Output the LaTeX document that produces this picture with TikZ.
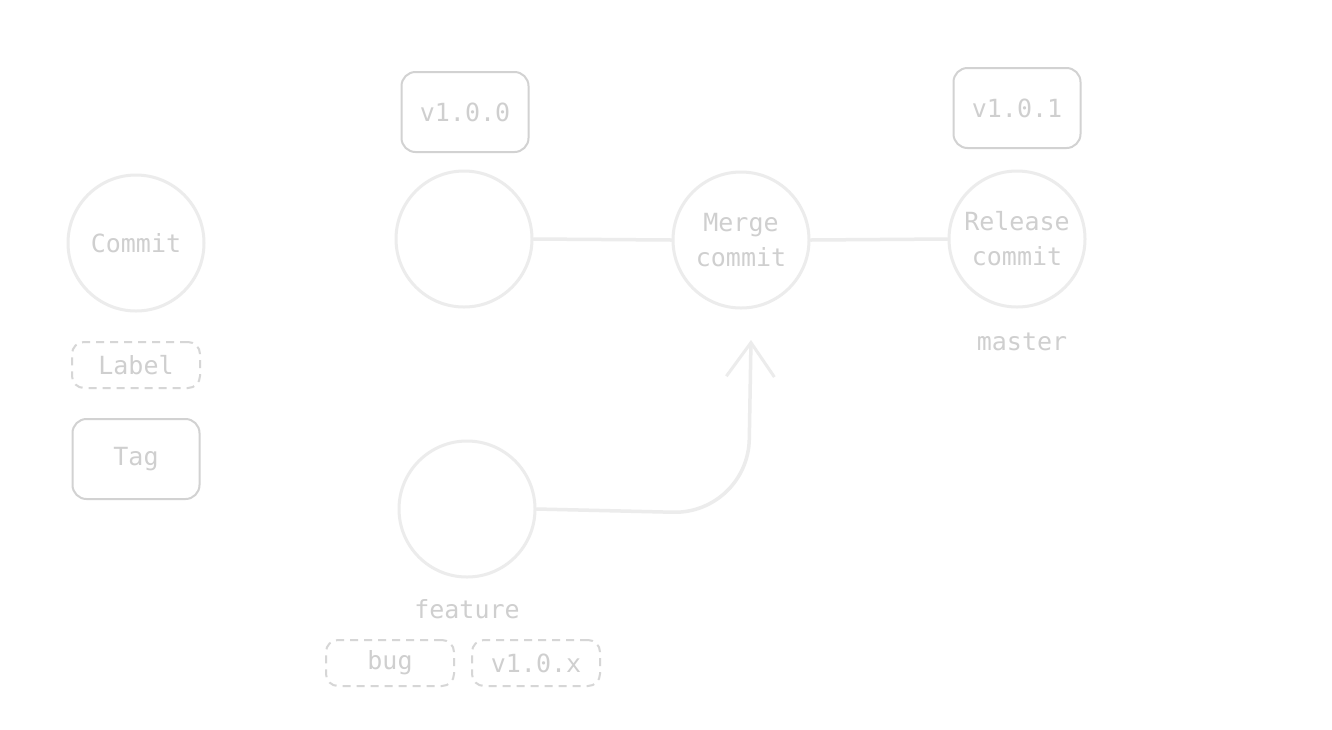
\documentclass[tikz,border=0pt]{standalone}
\usepackage{fontspec}
\setmonofont{DejaVu Sans Mono}
\usetikzlibrary{arrows.meta}
\definecolor{ringgray}{HTML}{ECECEC}
\definecolor{textgray}{HTML}{CFCFCF}
\definecolor{boxgray}{HTML}{D2D2D2}
\definecolor{dashgray}{HTML}{D6D6D6}
\begin{document}
\begin{tikzpicture}[x=1pt,y=-1pt,
  txt/.style={text=textgray,font=\ttfamily\fontsize{25}{35}\selectfont,align=center},
  commitnode/.style={txt,circle,draw=ringgray,line width=3pt,minimum size=136pt,inner sep=0pt},
  tagbox/.style={txt,draw=boxgray,line width=2pt,rounded corners=14pt,minimum width=127pt,minimum height=80pt,inner sep=0pt},
  labelbox/.style={txt,draw=dashgray,line width=2pt,dash pattern=on 8pt off 6pt,rounded corners=12pt,minimum width=128pt,minimum height=46pt,inner sep=0pt},
  branch/.style={draw=ringgray,line width=3.5pt,line cap=round},
  plain/.style={txt}]
\useasboundingbox[fill=white] (0,0) rectangle (1332,729);

% legend
\node[commitnode] (legcommit) at (136,243) {Commit};
\node[labelbox] (leglabel) at (136,365) {Label};
\node[tagbox] (legtag) at (136,459) {Tag};

% main line
\node[commitnode] (c1) at (464,239) {};
\node[tagbox] (t100) at (465,112) {v1.0.0};
\node[commitnode] (merge) at (741,240) {Merge\\commit};
\node[commitnode] (release) at (1017,239) {Release\\commit};
\node[tagbox] (t101) at (1017,108) {v1.0.1};
\node[plain] (master) at (1022,342) {master};

% feature branch
\node[commitnode] (feat) at (467,509) {};
\node[plain] (featlbl) at (467,609) {feature};
\node[labelbox] (bug) at (390,663) {bug};
\node[labelbox] (v10x) at (536,663) {v1.0.x};

\draw[branch] (c1.east) -- (merge.west);
\draw[branch] (merge.east) -- (release.west);

\coordinate (tip) at (751,340);
\coordinate (bend) at (748,514);
\draw[branch,rounded corners=75pt,-{Straight Barb[length=34pt,width=48pt,line width=3pt]}]
  (feat.east) -- (bend) -- (tip);
\end{tikzpicture}
\end{document}
